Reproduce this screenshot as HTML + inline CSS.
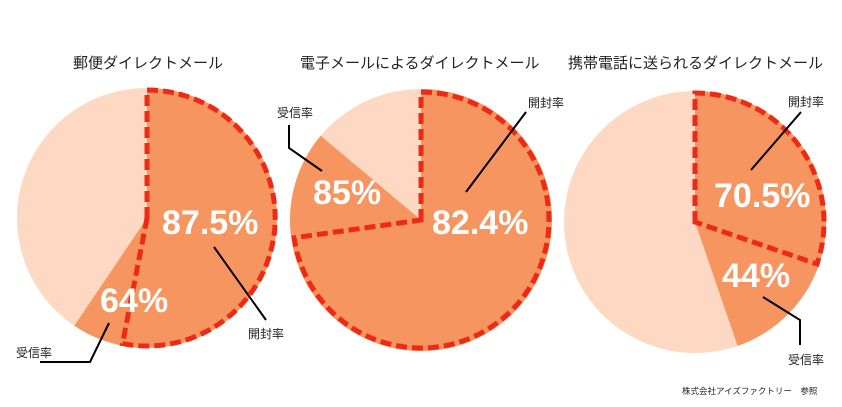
<!DOCTYPE html>
<html><head><meta charset="utf-8"><style>
body{margin:0;background:#fff}
svg{display:block}
.t{font-family:"Liberation Sans","Noto Sans CJK JP",sans-serif;fill:#222}
.p{font-family:"Liberation Sans","Noto Sans CJK JP",sans-serif;font-weight:bold;fill:#fff;font-size:34px}
</style></head><body>
<svg width="842" height="407" viewBox="0 0 842 407">
<g class="t" font-size="15">
<text x="73" y="68">郵便ダイレクトメール</text>
<text x="300" y="68">電子メールによるダイレクトメール</text>
<text x="568" y="68">携帯電話に送られるダイレクトメール</text>
</g>
<!-- pie1 -->
<circle cx="147" cy="218" r="130" fill="#fdd9c4"/>
<path d="M147,218 L147,88 A130,130 0 1 1 74.3,325.8 Z" fill="#f6955f"/>
<path d="M147,218 L147,90 A128,128 0 1 1 122.5,343.6 Z" fill="none" stroke="#ee2a16" stroke-width="5" stroke-dasharray="11,5"/>
<!-- pie2 -->
<circle cx="421" cy="220" r="131" fill="#fdd9c4"/>
<path d="M421,220 L421,89 A131,131 0 1 1 320.6,135.8 Z" fill="#f6955f"/>
<path d="M421,220 L421,92 A128,128 0 1 1 294.2,237.8 Z" fill="none" stroke="#ee2a16" stroke-width="5" stroke-dasharray="11,5"/>
<!-- pie3 -->
<circle cx="695" cy="222" r="131" fill="#fdd9c4"/>
<path d="M695,222 L695,91 A131,131 0 0 1 737.6,345.9 Z" fill="#f6955f"/>
<path d="M695,222 L695,93 A129,129 0 0 1 817,264 Z" fill="none" stroke="#ee2a16" stroke-width="5" stroke-dasharray="11,5"/>
<!-- percents -->
<text class="p" x="162" y="234">87.5%</text>
<text class="p" x="100" y="312">64%</text>
<text class="p" x="313" y="204">85%</text>
<text class="p" x="432" y="234">82.4%</text>
<text class="p" x="714" y="207">70.5%</text>
<text class="p" x="722" y="287">44%</text>
<!-- callouts -->
<g stroke="#000" stroke-width="2" fill="none">
<polyline points="214,247 266,320"/>
<polyline points="109,323 90,362 40,362"/>
<polyline points="289,125 289,148 322,171"/>
<polyline points="526,112 466,192"/>
<polyline points="801,112 751,170"/>
<polyline points="763,297 800,320 800,345"/>
</g>
<g class="t" font-size="12">
<text x="248" y="338">開封率</text>
<text x="16" y="357">受信率</text>
<text x="277" y="117">受信率</text>
<text x="528" y="107">開封率</text>
<text x="788" y="106">開封率</text>
<text x="788" y="364">受信率</text>
</g>
<text class="t" x="682" y="394" font-size="8.5">株式会社アイズファクトリー　参照</text>
</svg>
</body></html>
